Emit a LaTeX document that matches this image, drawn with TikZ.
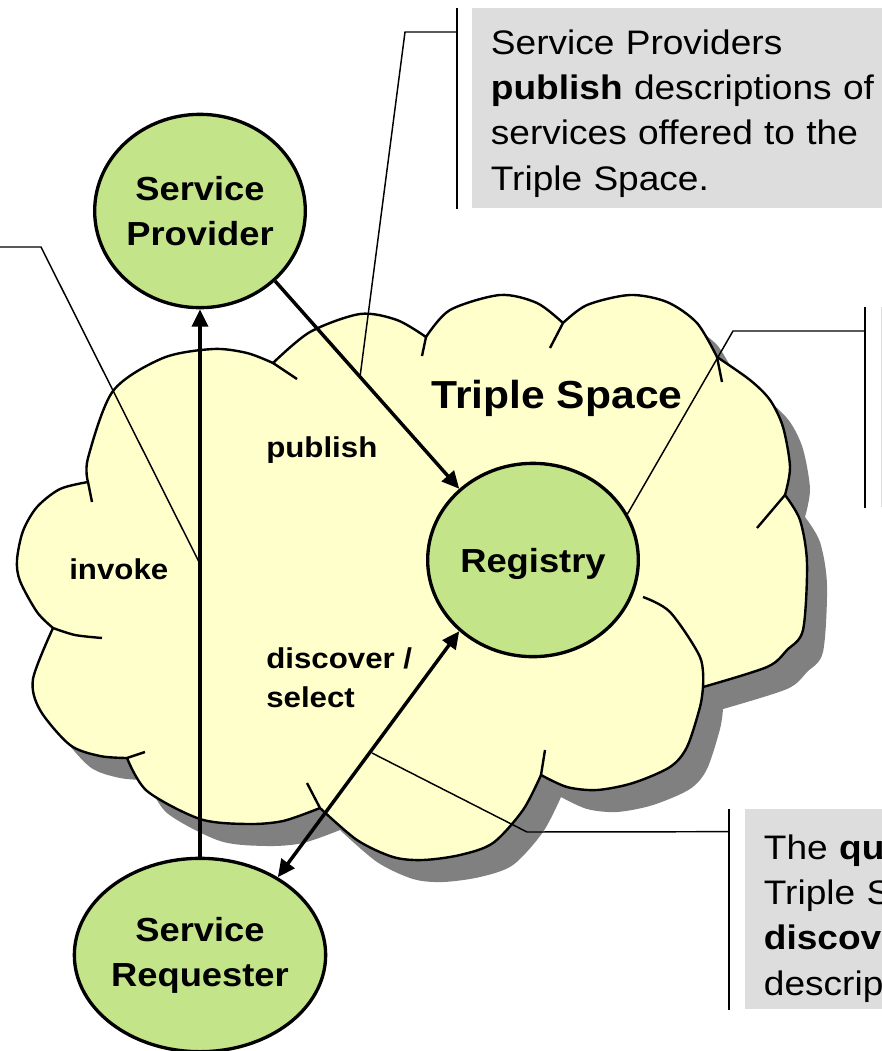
\documentclass[tikz,border=0pt]{standalone}
\usepackage{fontspec}
\setmainfont{Liberation Sans}[FakeStretch=1.09]
\usetikzlibrary{shapes.geometric,arrows.meta}

\definecolor{actorgreen}{RGB}{196,228,138}
\definecolor{spacefill}{RGB}{255,255,204}
\definecolor{notegray}{RGB}{221,221,221}
\definecolor{shadowgray}{RGB}{128,128,128}

\newcommand{\spaceoutline}{%
  plot[smooth] coordinates {(88,482) (88,458) (113,391) (163,358) (213,349) (247,353) (273,363)}
  -- plot[smooth] coordinates {(273,363) (310,332) (360,314) (397,320) (426,337)}
  -- plot[smooth] coordinates {(426,337) (450,310) (500,295) (537,303) (563,323)}
  -- plot[smooth] coordinates {(563,323) (587,305) (630,295) (667,302) (697,323) (717,357)}
  -- plot[smooth] coordinates {(717,357) (750,380) (770,400) (783,427) (790,467) (785,495)}
  -- plot[smooth] coordinates {(785,495) (800,520) (807,563) (803,630) (787,650) (767,667) (703,687)}
  -- plot[smooth] coordinates {(703,687) (700,707) (687,747) (670,767) (633,783) (597,790) (567,787) (541,775)}
  -- plot[smooth] coordinates {(541,775) (523,810) (493,843) (460,855) (423,860) (393,857) (357,840) (320,808)}
  -- plot[smooth] coordinates {(320,808) (283,821) (247,824) (200,819) (147,791) (127,758)}
  -- plot[smooth] coordinates {(127,758) (100,756) (70,745) (40,710) (33,679) (53,628)}
  -- plot[smooth] coordinates {(53,628) (37,612) (20,581) (17,560) (23,531) (37,507) (60,489) (88,482)}
  -- cycle}

\begin{document}
\begin{tikzpicture}[x=0.75pt, y=-0.75pt,
  actor/.style={ellipse, draw=black, line width=2.5pt, fill=actorgreen,
                minimum width=158pt, minimum height=145pt, inner sep=0pt,
                align=center, font=\fontsize{25}{33.75}\selectfont\bfseries},
  rim/.style={line width=1.8pt, line join=round},
  flow/.style={-{Triangle[length=13pt,width=12pt]}, line width=2.6pt},
  both/.style={{Triangle[length=13pt,width=12pt]}-{Triangle[length=13pt,width=12pt]},
               line width=2.6pt},
  lbl/.style={inner sep=0pt, align=left, font=\fontsize{21.5}{29.25}\selectfont\bfseries},
  title/.style={inner sep=0pt, font=\fontsize{29.3}{35}\selectfont\bfseries},
  note/.style={fill=notegray, anchor=north west, minimum height=150pt,
               inner xsep=14pt, inner ysep=0pt, align=left,
               font=\fontsize{25.5}{34}\selectfont},
  lead/.style={line width=1.1pt},
  bar/.style={line width=1.5pt}
]
\useasboundingbox (0,0) rectangle (882,1051);

\fill[shadowgray, shift={(20,22)}] \spaceoutline;
\filldraw[rim, fill=spacefill] \spaceoutline;
\foreach \a/\b in {{(88,482)}/{(92,502)}, {(273,363)}/{(297,379)},
                   {(426,337)}/{(422,356)}, {(563,323)}/{(550,348)},
                   {(717,357)}/{(722,382)}, {(785,495)}/{(757,528)},
                   {(541,775)}/{(545,750)}, {(320,808)}/{(307,783)},
                   {(127,758)}/{(145,752)}}
  \draw[rim] \a -- \b;
\draw[rim] plot[smooth] coordinates {(703,687) (700,657) (670,612) (643,597)};
\draw[rim] plot[smooth] coordinates {(53,628) (75,635) (102,638)};

\node[title, anchor=base] (ts) at (557,408) {Triple Space};

\node[note, text width=300pt] (pubnote) at (472,8)
  {\rule{0pt}{26pt}Service Providers\\\textbf{publish} descriptions of\\services offered to the\\Triple Space.};
\node[note, minimum width=20pt] (regnote) at (881,307) {};
\node[note, text width=150pt] (disnote) at (745,809)
  {\rule{0pt}{32pt}The \textbf{qu}\\Triple S\\\textbf{discov}\\descrip};

\node[actor] (sp) at (200,211) {Service\\Provider};
\node[actor, text depth=0pt] (reg) at (533,560) {Registry};
\node[actor] (sr) at (200,955) {Service\\Requester};

\coordinate (invnote) at (-2,247);
\coordinate (invknee) at (41,247);
\coordinate (invtip) at (199,562);
\coordinate (pubknee) at (405,32);
\coordinate (pubtip) at (360,377);
\coordinate (regknee) at (733,331);
\coordinate (disknee) at (527,832);
\coordinate (distip) at (372,753);

\draw[bar] ([xshift=-11.5pt]pubnote.north west) -- ([xshift=-11.5pt]pubnote.south west);
\draw[bar] ([xshift=-12pt]regnote.north west) -- ([xshift=-12pt]regnote.south west);
\draw[bar] ([xshift=-12pt]disnote.north west) -- ([xshift=-12pt]disnote.south west);

\draw[lead] ([shift={(-11.5pt,-18pt)}]pubnote.north west) -- (pubknee) -- (pubtip);
\draw[lead] ([shift={(-12pt,-18pt)}]regnote.north west) -- (regknee) -- (reg.26);
\draw[lead] ([shift={(-12pt,-17pt)}]disnote.north west) -- (disknee) -- (distip);
\draw[lead] (invnote) -- (invknee) -- (invtip);

\node[lbl, anchor=base west] (publbl) at (266,457) {publish};
\node[lbl, anchor=base west] (invlbl) at (69,579) {invoke};
\node[lbl, anchor=north west] (dislbl) at (266,647) {discover /\\select};

\draw[flow] (sr.north) -- (sp.south);
\draw[flow] (sp.-43) -- (reg.136);
\draw[both] (sr.45) -- (reg.-136);
\end{tikzpicture}
\end{document}
